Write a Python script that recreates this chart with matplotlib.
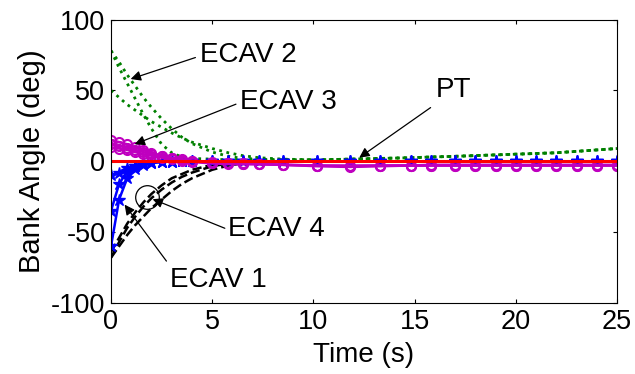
import matplotlib
matplotlib.use("Agg")
import matplotlib.pyplot as plt

plt.rcParams['font.family'] = ['Liberation Sans', 'DejaVu Sans']
plt.rcParams['axes.unicode_minus'] = False

# shared time grid (s)
time = [0, 0.4, 0.8, 1.2, 1.6, 2.0, 2.5, 3.0, 3.5, 4.0, 5.0, 5.8, 6.5, 7.3,
        8.5, 10.2, 11.8, 13.3, 14.8, 15.8, 17.0, 18.0, 19.0, 20.0, 21.0,
        22.0, 23.0, 24.0, 25.0]

# ECAV 1 (blue, stars)
ecav1_a = [-60, -27, -12, -5.5, -2.5, -1.2, -0.5, -0.2, 0, 0, 0, 0, 0, 0,
           0, 0, 0, 0, 0, 0, 0, 0, 0, 0, 0, 0, 0, 0, 0]
ecav1_b = [-35, -16, -7, -3, -1.5, -0.7, -0.3, 0, 0, 0, 0, 0, 0, 0,
           0, 0, 0, 0, 0, 0, 0, 0, 0, 0, 0, 0, 0, 0, 0]
ecav1_c = [-10, -8, -5, -3, -1.8, -1, -0.5, -0.2, 0, 0, 0, 0, 0, 0,
           0, 0, 0, 0, 0, 0, 0, 0, 0, 0, 0, 0, 0, 0, 0]

# ECAV 2 (green, dotted)
ecav2_a = [78, 66, 55, 44, 33, 23, 12, 6, 3, 2, 1.5, 1, 1, 1,
           1, 1, 1.5, 2, 2.5, 3, 3.5, 4, 4.5, 5, 5.5, 6, 7, 8, 9]
ecav2_b = [78, 70, 61, 53, 45, 38, 30, 23, 17, 12.5, 6.5, 3.5, 2, 1.5,
           1, 1, 1.5, 2, 2.5, 3, 3.5, 4, 4.5, 5, 5.5, 6, 7, 8, 9]
ecav2_c = [50, 45, 40, 36, 32, 28, 24, 20, 16.5, 13.5, 9, 6, 4, 2.5,
           1.5, 1, 1.5, 2, 2.5, 3, 3.5, 4, 4.5, 5, 5.5, 6, 7, 8, 9]

# ECAV 3 (magenta, circles)
ecav3_a = [15, 13.5, 12, 10, 8, 6, 4, 2.5, 1.5, 0.5, -0.5, -1, -1.5, -2,
           -2.5, -3.5, -4, -3.5, -3, -3, -3, -3, -3, -3, -3, -3, -3, -3, -3]
ecav3_b = [12, 11, 9.5, 8, 6.5, 5, 3.5, 2, 1, 0, -1, -1.5, -2, -2,
           -2.5, -3, -3.5, -3, -3, -2.5, -2.5, -2.5, -2.5, -2.5, -2.5, -2.5, -2.5, -2.5, -2.5]
ecav3_c = [10, 9, 8, 6.5, 5, 4, 2.5, 1.5, 0.5, -0.5, -1.5, -2, -2, -2,
           -2.5, -3, -3, -3, -3, -3, -3, -3, -3, -3, -3, -3, -3, -3, -3]

# ECAV 4 (black, dashed)
ecav4_a = [-68, -57, -47, -39, -32, -26, -20, -15, -11, -8, -3.5, -1.5, -0.5, 0,
           0, 0, 0, 0, 0, 0, 0, 0, 0, 0, 0, 0, 0, 0, 0]
ecav4_b = [-68, -60, -52, -45, -39, -33, -27, -21, -16, -12, -6, -3, -1.5, -0.5,
           0, 0, 0, 0, 0, 0, 0, 0, 0, 0, 0, 0, 0, 0, 0]
ecav4_c = [-64, -54, -44, -36, -29, -23, -17, -12, -9, -6, -2.5, -1, 0, 0,
           0, 0, 0, 0, 0, 0, 0, 0, 0, 0, 0, 0, 0, 0, 0]

# PT (red)
pt_time = [0, 25]
pt_vals = [0, 0]

xticks = [0, 5, 10, 15, 20, 25]
yticks = [-100, -50, 0, 50, 100]

fig = plt.figure(figsize=(6.35, 3.74), dpi=100)
ax = fig.add_axes([0.1748, 0.1898, 0.797, 0.758])

green = (0, 0.5, 0)
magenta = (0.75, 0, 0.75)

for ys in (ecav2_a, ecav2_b, ecav2_c):
    ax.plot(time, ys, ':', color=green, lw=2)
for ys in (ecav4_a, ecav4_b, ecav4_c):
    ax.plot(time, ys, '--', color='black', lw=1.8)
for ys in (ecav1_a, ecav1_b, ecav1_c):
    ax.plot(time, ys, '-', color='blue', lw=1.8, marker='*', ms=9)
for ys in (ecav3_a, ecav3_b, ecav3_c):
    ax.plot(time, ys, '-', color=magenta, lw=1.8, marker='o', ms=6.5, mfc='none', mew=1.5)
ax.plot(pt_time, pt_vals, '-', color='red', lw=2.2)

ax.set_xlim(0, 25)
ax.set_ylim(-100, 100)
ax.set_xticks(xticks)
ax.set_yticks(yticks)
ax.tick_params(direction='in', top=True, right=True, labelsize=19.5, length=3, pad=4)
ax.set_xlabel('Time (s)', fontsize=20, labelpad=5)
ax.set_ylabel('Bank Angle (deg)', fontsize=21, labelpad=4)

arrow = dict(arrowstyle='-|>', color='black', lw=0.9, mutation_scale=15)
fs = 20
# ECAV 2
ax.annotate('', xy=(0.84, 57.4), xytext=(4.30, 73.8), arrowprops=arrow)
ax.text(4.40, 75, 'ECAV 2', fontsize=fs, ha='left', va='center')
# ECAV 3
ax.annotate('', xy=(1.04, 11.3), xytext=(6.30, 41), arrowprops=arrow)
ax.text(6.37, 42, 'ECAV 3', fontsize=fs, ha='left', va='center')
# PT
ax.annotate('', xy=(12.15, 1.4), xytext=(15.9, 39), arrowprops=arrow)
ax.text(16.06, 50, 'PT', fontsize=fs, ha='left', va='center')
# ECAV 4
ax.plot([1.78], [-25], 'o', ms=17, mfc='none', mec='black', mew=0.9)
ax.annotate('', xy=(1.93, -26), xytext=(5.75, -48), arrowprops=arrow)
ax.text(5.78, -48, 'ECAV 4', fontsize=fs, ha='left', va='center')
# ECAV 1
ax.annotate('', xy=(0.59, -29), xytext=(2.82, -72), arrowprops=arrow)
ax.text(2.91, -84, 'ECAV 1', fontsize=fs, ha='left', va='center')

fig.savefig('out.png', dpi=100)
